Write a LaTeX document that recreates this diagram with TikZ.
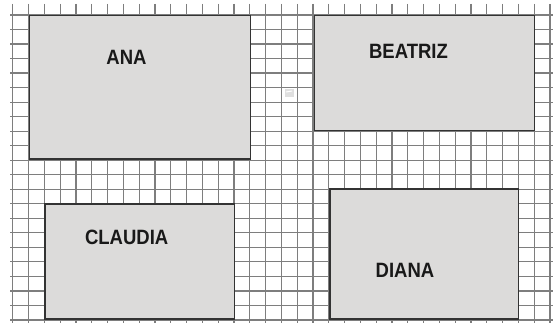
\documentclass[tikz,border=0pt]{standalone}
\usepackage{fontspec}
\setmainfont{Liberation Sans}
\usetikzlibrary{positioning}
\definecolor{gridgray}{HTML}{7E7E7E}
\definecolor{boxfill}{HTML}{DCDBDA}
\definecolor{boxline}{HTML}{333333}
\newcommand{\roomname}[1]{\scalebox{1}[1.12]{#1}}
\tikzset{
  roomnode/.style={rectangle,fill=boxfill,draw=boxline,line width=1.5pt,
    anchor=north west,inner sep=0pt},
  namenode/.style={font=\fontsize{18.5}{18.5}\selectfont\bfseries,text=black!90,inner sep=0pt},
  gridline/.style={draw=gridgray,line width=1.2pt}
}

\begin{document}
\begin{tikzpicture}[x=1pt,y=-1pt]
  \useasboundingbox[fill=white] (0,0) rectangle (553,323);

  % grid
  \foreach \k in {0,...,34}
    \draw[gridline] (12.7+15.8*\k,4) -- (12.7+15.8*\k,323);
  \foreach \k in {1,...,22}
    \draw[gridline] (10,0.5+14.52*\k) -- (553,0.5+14.52*\k);

  % rooms
  \node[roomnode,minimum width=221pt,minimum height=143pt] (ana) at (28.5,15) {};
  \node[roomnode,minimum width=220pt,minimum height=115pt] (beatriz) at (313.5,15) {};
  \node[roomnode,minimum width=189.5pt,minimum height=115pt] (claudia) at (44.4,203) {};
  \node[roomnode,minimum width=188.5pt,minimum height=130pt] (diana) at (329.3,188) {};

  % small mark
  \node[rectangle,fill=gray!25,minimum width=9pt,minimum height=8pt,inner sep=0pt] (mark) at (289,93) {};
  \draw[white,line width=1pt] ([xshift=-3pt,yshift=1pt]mark.center) -- ([xshift=3pt,yshift=2pt]mark.center);

  % names
  \node[namenode] (ananame) at (126.5,57.5) {\roomname{ANA}};
  \node[namenode] (beatrizname) at (408.5,51) {\roomname{BEATRIZ}};
  \node[namenode] (claudianame) at (126.7,237) {\roomname{CLAUDIA}};
  \node[namenode] (diananame) at (405,270) {\roomname{DIANA}};

\end{tikzpicture}
\end{document}
